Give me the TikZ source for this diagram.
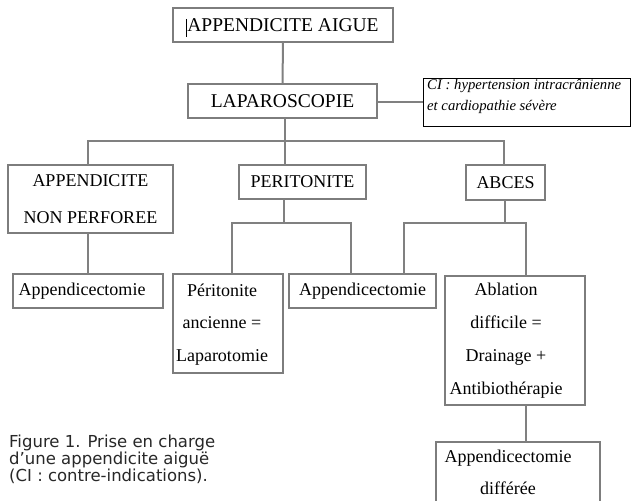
\documentclass[tikz,border=0pt]{standalone}
\usepackage{fontspec}
\setmainfont{Liberation Serif}
\newfontfamily\capfont{DejaVu Sans}
\definecolor{boxgray}{RGB}{125,125,125}
\definecolor{linegray}{RGB}{128,128,128}
\definecolor{captext}{RGB}{40,40,40}
\begin{document}
\begin{tikzpicture}[x=1pt,y=-1pt,
  boxframe/.style={draw=boxgray, line width=2pt, fill=white, inner sep=0pt, outer sep=0pt, rectangle},
  conn/.style={draw=linegray, line width=2pt},
  big/.style={font=\fontsize{19.5}{23}\selectfont},
  mid/.style={font=\fontsize{18}{22}\selectfont},
  txt/.style={inner sep=0pt, align=center},
]
\useasboundingbox (0,0) rectangle (631,500);
\clip (0,0) rectangle (631,500);
\fill[white] (0,0) rectangle (631,500);

% junction coordinates
\coordinate (bL) at (88,141);
\coordinate (bM) at (284.5,141);
\coordinate (bR) at (504,141);
\coordinate (pL) at (232,222.5);
\coordinate (pM) at (284,222.5);
\coordinate (pR) at (351,222.5);
\coordinate (aL) at (404,222.5);
\coordinate (aM) at (505,222.5);
\coordinate (aR) at (525.5,222.5);

% boxes
\node[boxframe, minimum width=220pt, minimum height=34pt, big] (aigue) at (283,25) {APPENDICITE AIGUE};
\node[boxframe, minimum width=189pt, minimum height=34pt, big] (lapa) at (282.5,101) {LAPAROSCOPIE};
\node[draw=black, line width=0.8pt, fill=white, inner sep=0pt, minimum width=207pt, minimum height=48pt] (ci) at (526.5,102) {};
\node[boxframe, minimum width=165pt, minimum height=68pt, align=center, font=\fontsize{18}{37}\selectfont] (anp) at (90.5,199) {APPENDICITE\\NON PERFOREE};
\node[boxframe, minimum width=127pt, minimum height=34pt, mid] (perit) at (302.5,182) {PERITONITE};
\node[boxframe, minimum width=79pt, minimum height=35pt, mid] (abces) at (505.5,182.5) {ABCES};
\node[boxframe, minimum width=150pt, minimum height=34pt] (app1) at (88,291) {};
\node[boxframe, minimum width=110pt, minimum height=99pt] (perit2) at (228,323.5) {};
\node[boxframe, minimum width=147pt, minimum height=34pt, mid] (app2) at (362.5,291) {Appendicectomie};
\node[boxframe, minimum width=140pt, minimum height=129pt] (abl) at (515,340.5) {};
\node[boxframe, minimum width=164pt, minimum height=70pt] (diff) at (518,477) {};

% connectors
\draw[conn] (aigue.south) -- (lapa.north);
\draw[conn] (lapa.east |- ci.west) -- (ci.west);
\draw[conn] (lapa.south -| bM) -- (perit.north -| bM);
\draw[conn] (anp.north -| bL) |- (bR) -- (abces.north -| bR);
\draw[conn] (anp.south -| bL) -- (app1.north -| bL);
\draw[conn] (perit.south -| pM) -- (pM);
\draw[conn] (perit2.north -| pL) |- (pR) -- (app2.north -| pR);
\draw[conn] (abces.south -| aM) -- (aM);
\draw[conn] (app2.north -| aL) |- (aR) -- (abl.north -| aR);
\draw[conn] (abl.south -| aR) -- (diff.north -| aR);

% texts
\draw[black, line width=0.8pt] (186,19) -- (186,37);
\node[txt, anchor=west, align=left, font=\fontsize{14.7}{21}\selectfont\itshape] (cit) at (427,96.5)
  {CI : hypertension intracrânienne\\et cardiopathie sévère};
\node[txt, mid] (app1t) at (82,291) {Appendicectomie};
\node[txt, font=\fontsize{18}{32.5}\selectfont] (perit2t) at (222,324.5) {Péritonite\\ancienne =\\Laparotomie};
\node[txt, font=\fontsize{18}{33}\selectfont] (ablt) at (506,340.5) {Ablation\\difficile =\\Drainage +\\Antibiothérapie};
\node[txt, font=\fontsize{18}{32}\selectfont] (difft) at (508,472) {Appendicectomie\\différée};
\node[txt, anchor=west, align=left, text=captext, font=\capfont\fontsize{16.5}{15.5}\selectfont] (cap) at (9,459)
  {Figure 1. Prise en charge\\d’une appendicite aiguë\\(CI : contre-indications).};
\end{tikzpicture}
\end{document}
